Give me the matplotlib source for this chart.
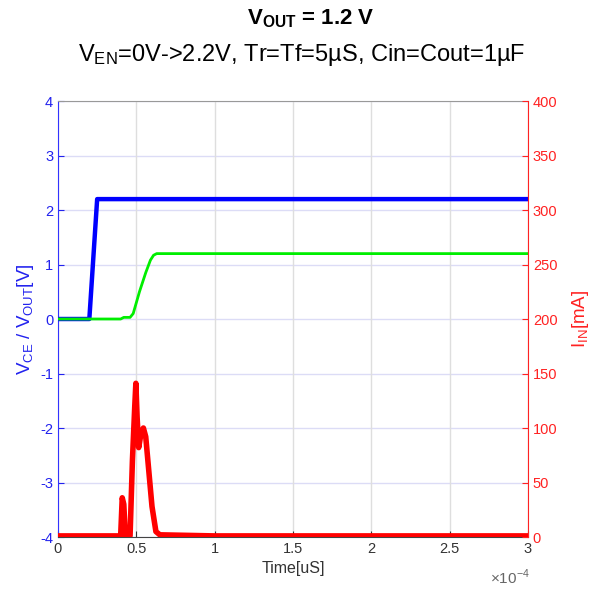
import matplotlib.pyplot as plt

plt.rcParams['font.family'] = ['Liberation Sans', 'DejaVu Sans']
plt.rcParams['mathtext.fontset'] = 'custom'
plt.rcParams['mathtext.rm'] = 'Liberation Sans'
plt.rcParams['mathtext.bf'] = 'Liberation Sans:bold'
plt.rcParams['axes.unicode_minus'] = False

# time in seconds
t_vce = [0, 0.20e-4, 0.25e-4, 3.0e-4]
v_vce = [0, 0, 2.2, 2.2]

t_vout = [0, 0.40e-4, 0.42e-4, 0.46e-4, 0.48e-4, 0.52e-4, 0.56e-4, 0.59e-4, 0.61e-4, 0.63e-4, 3.0e-4]
v_vout = [0, 0, 0.03, 0.03, 0.1, 0.5, 0.85, 1.08, 1.17, 1.2, 1.2]

t_iin = [0, 0.40e-4, 0.41e-4, 0.42e-4, 0.43e-4, 0.46e-4, 0.475e-4, 0.49e-4, 0.497e-4,
         0.505e-4, 0.515e-4, 0.53e-4, 0.545e-4, 0.56e-4, 0.58e-4, 0.60e-4, 0.625e-4,
         0.65e-4, 1.0e-4, 3.0e-4]
i_iin = [1, 1, 36, 30, 1, 1, 70, 120, 141, 110, 82, 95, 100, 92, 60, 28, 5, 2, 1, 1]

x_ticks = [0, 0.5e-4, 1e-4, 1.5e-4, 2e-4, 2.5e-4, 3e-4]
x_labels = ['0', '0.5', '1', '1.5', '2', '2.5', '3']
left_ticks = [-4, -3, -2, -1, 0, 1, 2, 3, 4]
right_ticks = [0, 50, 100, 150, 200, 250, 300, 350, 400]

fig = plt.figure(figsize=(5.9, 5.97), dpi=100)
ax = fig.add_axes([0.0983, 0.1005, 0.7966, 0.7303])

# grid
for y in left_ticks:
    ax.axhline(y, color='#dcdcf6', lw=1, zorder=0)
for x in x_ticks:
    ax.axvline(x, color='#dedede', lw=1, zorder=0)

ax.plot(t_vce, v_vce, color='#0000ff', lw=3.2, zorder=3)
ax.plot(t_vout, v_vout, color='#00ee00', lw=2.0, zorder=4)

ax.set_xlim(0, 3e-4)
ax.set_ylim(-4, 4)
ax.set_xticks(x_ticks)
ax.set_xticklabels(x_labels)
ax.set_yticks(left_ticks)
ax.tick_params(axis='y', colors='#2222ee', direction='in', length=4, labelsize=10.5)
ax.tick_params(axis='x', colors='#333333', direction='in', length=4, labelsize=10.5)
ax.spines['left'].set_color('#3333ff')
ax.spines['top'].set_color('#999999')
ax.spines['bottom'].set_color('#444444')
ax.spines['right'].set_visible(False)
ax.set_ylabel(r'$\mathrm{V_{CE}}$ / $\mathrm{V_{OUT}}$[V]', color='#2222ee', fontsize=13.5, labelpad=3)
ax.set_xlabel('Time[uS]', color='#333333', fontsize=11.5, labelpad=4)

ax2 = ax.twinx()
ax2.plot(t_iin, i_iin, color='#ff0000', lw=4.0, zorder=5)
ax2.set_ylim(0, 400)
ax2.set_yticks(right_ticks)
ax2.tick_params(axis='y', colors='#ff2222', direction='in', length=4, labelsize=10.5)
ax2.spines['right'].set_color('#ff2222')
ax2.spines['left'].set_visible(False)
ax2.spines['top'].set_visible(False)
ax2.spines['bottom'].set_visible(False)
ax2.set_ylabel(r'$\mathrm{I_{IN}}$[mA]', color='#ff2222', fontsize=13.5, labelpad=9)

fig.text(0.865, 0.022, r'$\times10^{-4}$', color='#666666', fontsize=11, ha='center')

fig.text(0.527, 0.968, r'$\mathbf{V_{OUT}}$ = 1.2 V', ha='center', va='center',
         fontsize=16, fontweight='bold')
fig.text(0.512, 0.908, r'$\mathrm{V_{EN}}$=0V->2.2V, Tr=Tf=5µS, Cin=Cout=1µF',
         ha='center', va='center', fontsize=17)

fig.savefig('out.png', dpi=100)
